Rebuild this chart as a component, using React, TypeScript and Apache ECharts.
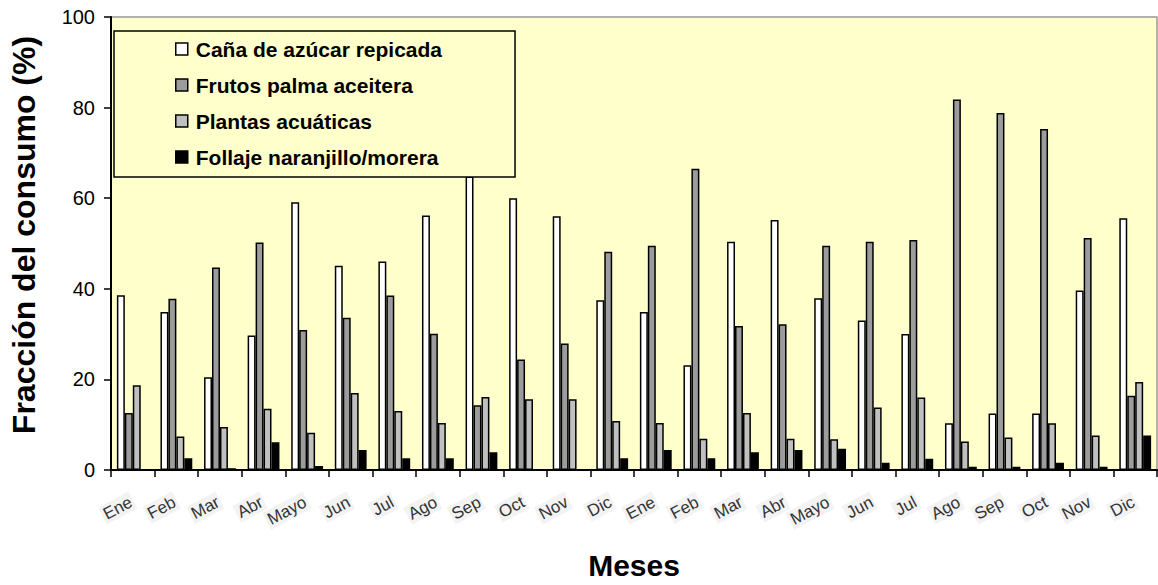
import React, { useEffect, useRef } from "react";
import * as echarts from "echarts";

const months = ["Ene", "Feb", "Mar", "Abr", "Mayo", "Jun", "Jul", "Ago", "Sep", "Oct", "Nov", "Dic"];
const categories = [...months, ...months];

const seriesNames = [
  "Caña de azúcar repicada",
  "Frutos palma aceitera",
  "Plantas acuáticas",
  "Follaje naranjillo/morera",
];

const cana = [38.6, 34.9, 20.5, 29.7, 59.1, 45.1, 46.0, 56.2, 64.8, 60.0, 56.0, 37.5, 34.9, 23.1, 50.4, 55.2, 37.9, 33.0, 30.0, 10.3, 12.5, 12.5, 39.6, 55.6];
const frutos = [12.6, 37.8, 44.7, 50.2, 30.9, 33.6, 38.5, 30.1, 14.3, 24.4, 27.9, 48.2, 49.5, 66.5, 31.8, 32.2, 49.5, 50.4, 50.8, 81.8, 78.8, 75.3, 51.2, 16.4];
const plantas = [18.7, 7.4, 9.5, 13.5, 8.2, 17.0, 13.0, 10.4, 16.1, 15.6, 15.6, 10.8, 10.4, 6.9, 12.6, 6.9, 6.8, 13.8, 16.0, 6.3, 7.2, 10.3, 7.6, 19.4];
const follaje = [0, 2.6, 0.4, 6.1, 0.9, 4.4, 2.6, 2.6, 3.9, 0, 0, 2.6, 4.4, 2.6, 3.9, 4.4, 4.7, 1.6, 2.5, 0.7, 0.7, 1.6, 0.7, 7.6];

const seriesData = [cana, frutos, plantas, follaje];
const seriesColors = ["#FFFFFF", "#9C9C9C", "#C0C0C0", "#000000"];

const yTicks = { min: 0, max: 100, interval: 20 };

export default function App() {
  const ref = useRef<HTMLDivElement>(null);

  useEffect(() => {
    if (!ref.current) return;
    const chart = echarts.init(ref.current, null, { renderer: "svg" });
    const font = "'Liberation Sans', Arial, sans-serif";
    chart.setOption({
      animation: false,
      textStyle: { fontFamily: font },
      grid: {
        left: 108,
        top: 17,
        right: 1,
        bottom: 109,
        show: true,
        backgroundColor: "#FFFFCC",
        borderColor: "#999999",
        borderWidth: 1.5,
      },
      legend: {
        orient: "vertical",
        left: 114,
        top: 31,
        padding: [7, 73, 9, 61],
        itemGap: 14,
        itemWidth: 12,
        itemHeight: 12,
        backgroundColor: "#FFFFCC",
        borderColor: "#000000",
        borderWidth: 1.5,
        icon: "rect",
        itemStyle: { borderColor: "#000", borderWidth: 1.5 },
        textStyle: {
          fontFamily: font,
          fontWeight: "bold",
          fontSize: 21,
          lineHeight: 22,
          color: "#000",
          padding: [0, 0, 0, 3],
        },
        data: seriesNames,
      },
      xAxis: {
        type: "category",
        data: categories,
        name: "Meses",
        nameLocation: "middle",
        nameGap: 80,
        nameTextStyle: { fontFamily: font, fontWeight: "bold", fontSize: 30, color: "#000" },
        axisLine: { lineStyle: { color: "#000", width: 2 } },
        axisTick: { show: true, length: 7, lineStyle: { color: "#000", width: 1.5 } },
        axisLabel: {
          interval: 0,
          rotate: 28,
          margin: 30,
          fontSize: 17,
          color: "#333",
          fontFamily: font,
          backgroundColor: "#f3f3f3",
          padding: [1, 2],
        },
      },
      yAxis: {
        type: "value",
        min: yTicks.min,
        max: yTicks.max,
        interval: yTicks.interval,
        name: "Fracción del consumo (%)",
        nameLocation: "middle",
        nameGap: 71,
        nameTextStyle: {
          fontFamily: font,
          fontWeight: "bold",
          fontSize: 32,
          color: "#000",
          padding: [0, 0, 0, 17],
        },
        splitLine: { show: false },
        axisLine: { show: true, lineStyle: { color: "#000", width: 2 } },
        axisTick: { show: true, length: 7, lineStyle: { color: "#000", width: 1.5 } },
        axisLabel: { fontSize: 20, color: "#000", margin: 16, fontFamily: font },
      },
      series: seriesNames.map((name, i) => ({
        name,
        type: "bar",
        data: seriesData[i],
        barGap: "0%",
        barCategoryGap: "27%",
        itemStyle: { color: seriesColors[i], borderColor: "#000", borderWidth: 1.5 },
      })),
    });
    return () => chart.dispose();
  }, []);

  return (
    <div
      ref={ref}
      style={{ position: "fixed", left: 0, top: 0, width: 1158, height: 585, background: "#fff" }}
    />
  );
}
